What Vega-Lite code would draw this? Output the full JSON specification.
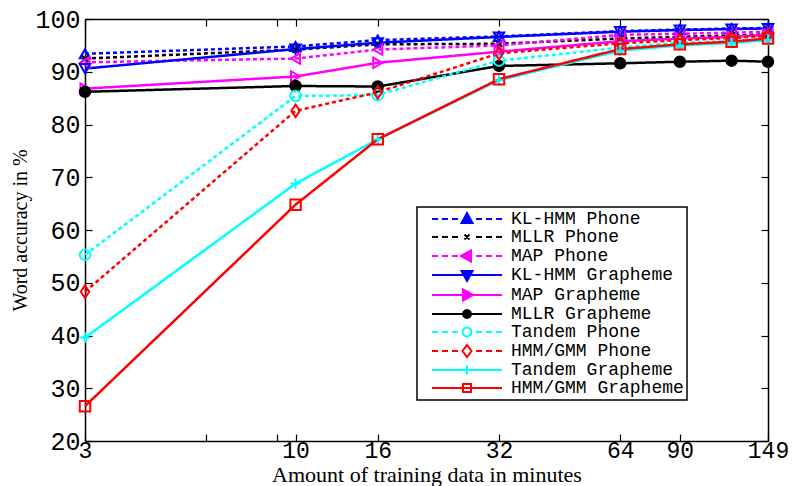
{
  "$schema": "https://vega.github.io/schema/vega-lite/v6.json",
  "width": 683,
  "height": 422,
  "autosize": {"type": "none"},
  "padding": {"left": 85, "top": 19, "right": 24, "bottom": 45},
  "background": "white",
  "config": {
    "view": {"stroke": null},
    "axis": {
      "grid": false,
      "domainColor": "black",
      "domainWidth": 1.5,
      "tickColor": "black",
      "tickWidth": 1.2,
      "labelColor": "black",
      "labelFont": "Liberation Mono",
      "labelFontSize": 25,
      "titleColor": "black",
      "titleFont": "Liberation Serif",
      "titleFontWeight": "normal",
      "titleFontSize": 21
    }
  },
  "data": {
    "values": [
      {"s": "KL-HMM Phone", "m": 3, "a": 93.4}, {"s": "KL-HMM Phone", "m": 10, "a": 94.8}, {"s": "KL-HMM Phone", "m": 16, "a": 96.0}, {"s": "KL-HMM Phone", "m": 32, "a": 96.7}, {"s": "KL-HMM Phone", "m": 64, "a": 97.7}, {"s": "KL-HMM Phone", "m": 90, "a": 98.0}, {"s": "KL-HMM Phone", "m": 121, "a": 98.2}, {"s": "KL-HMM Phone", "m": 149, "a": 98.3},
      {"s": "MLLR Phone", "m": 3, "a": 92.5}, {"s": "MLLR Phone", "m": 10, "a": 94.2}, {"s": "MLLR Phone", "m": 16, "a": 95.2}, {"s": "MLLR Phone", "m": 32, "a": 95.3}, {"s": "MLLR Phone", "m": 64, "a": 96.3}, {"s": "MLLR Phone", "m": 90, "a": 96.6}, {"s": "MLLR Phone", "m": 121, "a": 96.9}, {"s": "MLLR Phone", "m": 149, "a": 97.1},
      {"s": "MAP Phone", "m": 3, "a": 91.8}, {"s": "MAP Phone", "m": 10, "a": 92.5}, {"s": "MAP Phone", "m": 16, "a": 94.2}, {"s": "MAP Phone", "m": 32, "a": 95.0}, {"s": "MAP Phone", "m": 64, "a": 97.0}, {"s": "MAP Phone", "m": 90, "a": 97.2}, {"s": "MAP Phone", "m": 121, "a": 97.4}, {"s": "MAP Phone", "m": 149, "a": 97.6},
      {"s": "KL-HMM Grapheme", "m": 3, "a": 90.6}, {"s": "KL-HMM Grapheme", "m": 10, "a": 94.3}, {"s": "KL-HMM Grapheme", "m": 16, "a": 95.5}, {"s": "KL-HMM Grapheme", "m": 32, "a": 96.6}, {"s": "KL-HMM Grapheme", "m": 64, "a": 97.6}, {"s": "KL-HMM Grapheme", "m": 90, "a": 97.9}, {"s": "KL-HMM Grapheme", "m": 121, "a": 98.1}, {"s": "KL-HMM Grapheme", "m": 149, "a": 98.2},
      {"s": "MAP Grapheme", "m": 3, "a": 86.8}, {"s": "MAP Grapheme", "m": 10, "a": 89.1}, {"s": "MAP Grapheme", "m": 16, "a": 91.7}, {"s": "MAP Grapheme", "m": 32, "a": 93.8}, {"s": "MAP Grapheme", "m": 64, "a": 95.8}, {"s": "MAP Grapheme", "m": 90, "a": 96.3}, {"s": "MAP Grapheme", "m": 121, "a": 96.6}, {"s": "MAP Grapheme", "m": 149, "a": 97.0},
      {"s": "MLLR Grapheme", "m": 3, "a": 86.2}, {"s": "MLLR Grapheme", "m": 10, "a": 87.3}, {"s": "MLLR Grapheme", "m": 16, "a": 87.2}, {"s": "MLLR Grapheme", "m": 32, "a": 91.1}, {"s": "MLLR Grapheme", "m": 64, "a": 91.6}, {"s": "MLLR Grapheme", "m": 90, "a": 91.9}, {"s": "MLLR Grapheme", "m": 121, "a": 92.1}, {"s": "MLLR Grapheme", "m": 149, "a": 91.9},
      {"s": "Tandem Phone", "m": 3, "a": 55.3}, {"s": "Tandem Phone", "m": 10, "a": 85.4}, {"s": "Tandem Phone", "m": 16, "a": 85.6}, {"s": "Tandem Phone", "m": 32, "a": 92.1}, {"s": "Tandem Phone", "m": 64, "a": 94.6}, {"s": "Tandem Phone", "m": 90, "a": 95.5}, {"s": "Tandem Phone", "m": 121, "a": 95.8}, {"s": "Tandem Phone", "m": 149, "a": 96.2},
      {"s": "HMM/GMM Phone", "m": 3, "a": 48.3}, {"s": "HMM/GMM Phone", "m": 10, "a": 82.6}, {"s": "HMM/GMM Phone", "m": 16, "a": 86.1}, {"s": "HMM/GMM Phone", "m": 32, "a": 93.5}, {"s": "HMM/GMM Phone", "m": 64, "a": 95.4}, {"s": "HMM/GMM Phone", "m": 90, "a": 96.0}, {"s": "HMM/GMM Phone", "m": 121, "a": 96.4}, {"s": "HMM/GMM Phone", "m": 149, "a": 96.8},
      {"s": "Tandem Grapheme", "m": 3, "a": 39.6}, {"s": "Tandem Grapheme", "m": 10, "a": 68.8}, {"s": "Tandem Grapheme", "m": 16, "a": 77.2}, {"s": "Tandem Grapheme", "m": 32, "a": 88.4}, {"s": "Tandem Grapheme", "m": 64, "a": 94.0}, {"s": "Tandem Grapheme", "m": 90, "a": 95.0}, {"s": "Tandem Grapheme", "m": 121, "a": 95.5}, {"s": "Tandem Grapheme", "m": 149, "a": 96.0},
      {"s": "HMM/GMM Grapheme", "m": 3, "a": 26.6}, {"s": "HMM/GMM Grapheme", "m": 10, "a": 64.8}, {"s": "HMM/GMM Grapheme", "m": 16, "a": 77.2}, {"s": "HMM/GMM Grapheme", "m": 32, "a": 88.6}, {"s": "HMM/GMM Grapheme", "m": 64, "a": 94.3}, {"s": "HMM/GMM Grapheme", "m": 90, "a": 95.2}, {"s": "HMM/GMM Grapheme", "m": 121, "a": 95.7}, {"s": "HMM/GMM Grapheme", "m": 149, "a": 96.3}
    ]
  },
  "layer": [
    {
      "mark": {"type": "line", "strokeWidth": 2.5, "strokeCap": "butt"},
      "encoding": {
        "x": {
          "field": "m", "type": "quantitative",
          "scale": {"type": "log", "domain": [3, 149], "nice": false},
          "axis": {
            "orient": "bottom",
            "values": [3, 6, 9, 10, 16, 32, 64, 90, 149],
            "format": "d",
            "labelExpr": "datum.value == 6 || datum.value == 9 ? '' : datum.label",
            "labelOverlap": false,
            "labelFlush": false,
            "labelFontSize": 23,
            "tickSize": -7,
            "labelPadding": 5,
            "title": "Amount of training data in minutes",
            "titleFontSize": 22,
            "titleY": 23,
            "titleBaseline": "top"
          }
        },
        "y": {
          "field": "a", "type": "quantitative",
          "scale": {"domain": [20, 100], "nice": false, "zero": false},
          "axis": {
            "orient": "left",
            "values": [20, 30, 40, 50, 60, 70, 80, 90, 100],
            "labelOverlap": false,
            "labelFlush": false,
            "tickSize": -7,
            "labelPadding": 12,
            "title": "Word accuracy in %",
            "titleX": -55,
            "titleFontSize": 20
          }
        },
        "color": {
          "field": "s", "type": "nominal",
          "scale": {
            "domain": ["KL-HMM Phone", "MLLR Phone", "MAP Phone", "KL-HMM Grapheme", "MAP Grapheme", "MLLR Grapheme", "Tandem Phone", "HMM/GMM Phone", "Tandem Grapheme", "HMM/GMM Grapheme"],
            "range": ["#0000ff", "#000000", "#ff00ff", "#0000ff", "#ff00ff", "#000000", "#00ffff", "#ff0000", "#00ffff", "#ff0000"]
          },
          "legend": {
            "orient": "none",
            "legendX": 332,
            "legendY": 188,
            "title": null,
            "padding": 3,
            "fillColor": "white",
            "strokeColor": "black",
            "labelFont": "Liberation Mono",
            "labelFontSize": 18,
            "labelColor": "black",
            "labelLimit": 400,
            "symbolSize": 100,
            "symbolStrokeWidth": 2,
            "symbolOffset": 38,
            "labelOffset": 35,
            "rowPadding": 0,
            "encode": {
              "symbols": {
                "update": {
                  "shape": {"signal": "['M-7,0H-5.8M-5,0H-3.8M-3,0H-1.8M1.8,0H3M3.8,0H5M5.8,0H7M0,-1.2L1.1,0.8L-1.1,0.8Z', 'M-7,0H-5.8M-5,0H-3.8M-3,0H-1.8M1.8,0H3M3.8,0H5M5.8,0H7M-0.5,-0.5L0.5,0.5M-0.5,0.5L0.5,-0.5', 'M-7,0H-5.8M-5,0H-3.8M-3,0H-1.8M1.8,0H3M3.8,0H5M5.8,0H7M-1.2,0L0.8,-1.1L0.8,1.1Z', 'M-7,0H7M0,1.2L1.1,-0.8L-1.1,-0.8Z', 'M-7,0H7M1.2,0L-0.8,-1.1L-0.8,1.1Z', 'M-7,0H7M0.8,0L0.69,0.4L0.4,0.69L0,0.8L-0.4,0.69L-0.69,0.4L-0.8,0L-0.69,-0.4L-0.4,-0.69L0,-0.8L0.4,-0.69L0.69,-0.4Z', 'M-7,0H-5.8M-5,0H-3.8M-3,0H-1.8M1.8,0H3M3.8,0H5M5.8,0H7M0.9,0L0.78,0.45L0.45,0.78L0,0.9L-0.45,0.78L-0.78,0.45L-0.9,0L-0.78,-0.45L-0.45,-0.78L0,-0.9L0.45,-0.78L0.78,-0.45Z', 'M-7,0H-5.8M-5,0H-3.8M-3,0H-1.8M1.8,0H3M3.8,0H5M5.8,0H7M0,-1.2L0.9,0L0,1.2L-0.9,0Z', 'M-7,0H7M0,-0.9V0.9', 'M-7,0H7M-0.8,-0.8H0.8V0.8H-0.8Z'][datum.index]"},
                  "fill": {"signal": "['#0000ff', '#000000', '#ff00ff', '#0000ff', '#ff00ff', '#000000', 'transparent', 'transparent', 'transparent', 'transparent'][datum.index]"},
                  "stroke": {"signal": "['#0000ff', '#000000', '#ff00ff', '#0000ff', '#ff00ff', '#000000', '#00ffff', '#ff0000', '#00ffff', '#ff0000'][datum.index]"},
                  "strokeDash": {"value": []},
                  "strokeWidth": {"value": 2},
                  "opacity": {"value": 1}
                }
              },
              "legend": {"update": {"strokeWidth": {"value": 1.5}}}
            }
          }
        },
        "strokeDash": {
          "field": "s", "type": "nominal",
          "scale": {
            "domain": ["HMM/GMM Grapheme", "HMM/GMM Phone", "KL-HMM Grapheme", "KL-HMM Phone", "MAP Grapheme", "MAP Phone", "MLLR Grapheme", "MLLR Phone", "Tandem Grapheme", "Tandem Phone"],
            "range": [[1, 0], [4, 3], [1, 0], [4, 3], [1, 0], [4, 3], [1, 0], [4, 3], [1, 0], [4, 3]]
          },
          "legend": null
        }
      }
    },
    {
      "mark": {"type": "point", "filled": false, "strokeWidth": 2, "size": 110, "opacity": 1},
      "encoding": {
        "x": {
          "field": "m", "type": "quantitative",
          "scale": {"type": "log", "domain": [3, 149], "nice": false},
          "axis": {
            "orient": "top",
            "values": [3, 6, 9, 10, 16, 32, 64, 90, 149],
            "labels": false,
            "tickSize": -7,
            "title": null
          }
        },
        "y": {
          "field": "a", "type": "quantitative",
          "scale": {"domain": [20, 100], "nice": false, "zero": false},
          "axis": {
            "orient": "right",
            "values": [20, 30, 40, 50, 60, 70, 80, 90, 100],
            "labels": false,
            "tickSize": -7,
            "title": null
          }
        },
        "color": {"field": "s", "type": "nominal"},
        "shape": {
          "field": "s", "type": "nominal",
          "scale": {
            "domain": ["Tandem Phone", "Tandem Grapheme", "MLLR Phone", "MLLR Grapheme", "MAP Phone", "MAP Grapheme", "KL-HMM Phone", "KL-HMM Grapheme", "HMM/GMM Phone", "HMM/GMM Grapheme"],
            "range": ["circle", "M-1,0H1M0,-1V1", "M-0.6,-0.6L0.6,0.6M-0.6,0.6L0.6,-0.6", "circle", "triangle-left", "triangle-right", "triangle-up", "triangle-down", "M0,-1.2L0.8,0L0,1.2L-0.8,0Z", "square"]
          },
          "legend": null
        },
        "fill": {
          "condition": {"test": "datum.s === 'MLLR Grapheme'", "value": "#000000"},
          "value": "transparent"
        }
      }
    }
  ],
  "resolve": {"axis": {"x": "independent", "y": "independent"}}
}
